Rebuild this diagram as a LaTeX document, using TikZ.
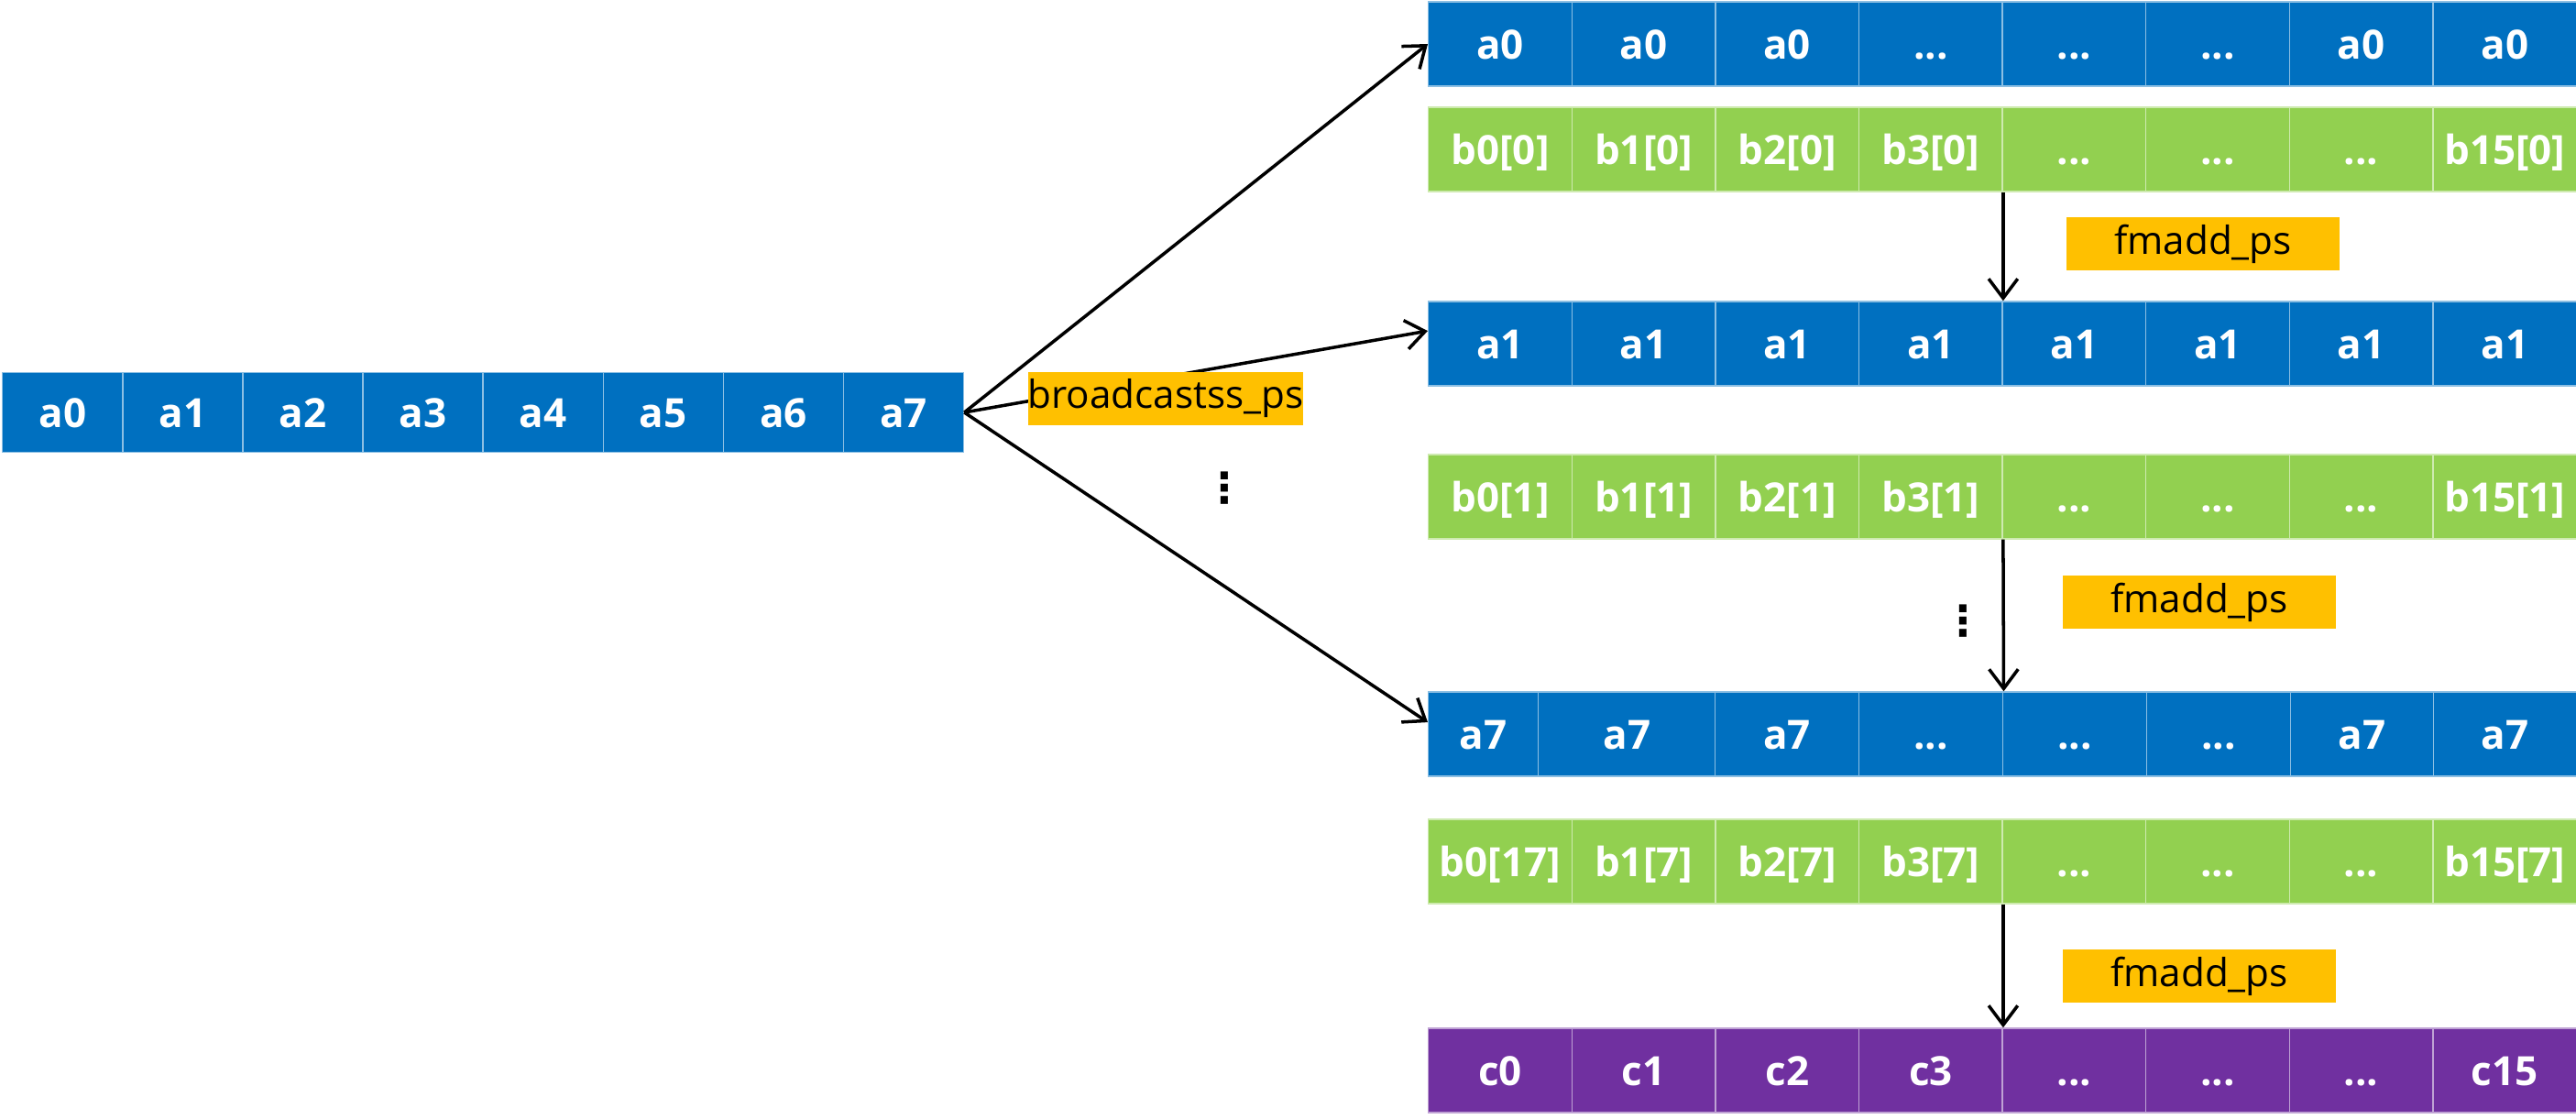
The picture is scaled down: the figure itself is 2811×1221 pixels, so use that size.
\documentclass[tikz,border=0pt]{standalone}
\usepackage{fontspec}
\setmainfont{Open Sans}
\newfontfamily\symfont{DejaVu Sans}
\usepackage{amsmath}
\usepackage{tikz}
\usetikzlibrary{arrows.meta,positioning}

\definecolor{regblue}{HTML}{0070C0}
\definecolor{reggreen}{HTML}{92D050}
\definecolor{regpurple}{HTML}{7030A0}
\definecolor{oporange}{HTML}{FFC000}

\newcommand{\elid}{...}

\tikzset{
	cell/.style={draw=white!55!#1, line width=0.4pt, fill=#1, text=white,
		font=\bfseries\fontsize{12.5}{14}\selectfont, text height=0.32cm, text depth=0pt,
		minimum height=0.92cm, inner sep=0pt, anchor=west},
	opbox/.style={fill=oporange, font=\fontsize{12}{14}\selectfont,
		minimum width=2.98cm, minimum height=0.58cm, inner sep=0pt},
	vdot/.style={font=\symfont\bfseries\fontsize{13}{14}\selectfont, inner sep=0pt},
	link/.style={-{Straight Barb[length=6pt,width=9pt]}, line width=1pt},
}

\begin{document}
\begin{tikzpicture}[x=0.01cm, y=-0.01cm]
				\useasboundingbox (0,0) rectangle (2811,1221);
				% source row
				\foreach \t [count=\i] in {a0,a1,a2,a3,a4,a5,a6,a7}
					\node[cell=regblue, minimum width=1.311cm, minimum height=0.87cm] (L-\i) at ({2+131.1*(\i-1)}, 450) {\t};
				% register rows
				\foreach \rw/\yy/\col/\cells in {
						A0/48/regblue/{a0,a0,a0,\elid,\elid,\elid,a0,a0},
						B0/163/reggreen/{b0[0],b1[0],b2[0],b3[0],\elid,\elid,\elid,b15[0]},
						A1/375/regblue/{a1,a1,a1,a1,a1,a1,a1,a1},
						B1/542/reggreen/{b0[1],b1[1],b2[1],b3[1],\elid,\elid,\elid,b15[1]},
						B7/940/reggreen/{b0[17],b1[7],b2[7],b3[7],\elid,\elid,\elid,b15[7]},
						C/1168/regpurple/{c0,c1,c2,c3,\elid,\elid,\elid,c15}}
					\foreach \t [count=\i] in \cells
						\node[cell=\col, minimum width=1.566cm] (\rw-\i) at ({1558+156.6*(\i-1)}, \yy) {\t};
				% a7 row, first cell narrower
				\foreach \x/\w/\t [count=\i] in {1558/1.20/a7, 1678/1.93/a7, 1871/1.57/a7, 2028/1.57/\elid,
						2185/1.57/\elid, 2342/1.57/\elid, 2499/1.56/a7, 2655/1.56/a7}
					\node[cell=regblue, minimum width=\w cm] (A7-\i) at (\x, 801) {\t};
				% broadcast
				\draw[link] (L-8.east) -- (A0-1.west);
				\draw[link] (L-8.east) -- (A1-1.170);
				\draw[link] (L-8.east) -- (A7-1.168);
				% fmadd
				\draw[link] (B0-4.south east) -- (A1-4.north east);
				\draw[link] (B1-4.south east) -- (A7-4.north east);
				\draw[link] (B7-4.south east) -- (C-4.north east);
				\node[opbox] (bcast) at (1272,435) {broadcastss\_ps};
				\node[opbox] (fma1) at (2404,266) {fmadd\_ps};
				\node[opbox] (fma2) at (2400,657) {fmadd\_ps};
				\node[opbox] (fma3) at (2400,1065) {fmadd\_ps};
				\node[vdot] (dots1) at (1336,533) {⋮};
				\node[vdot] (dots2) at (2142,678) {⋮};
			\end{tikzpicture}
\end{document}
